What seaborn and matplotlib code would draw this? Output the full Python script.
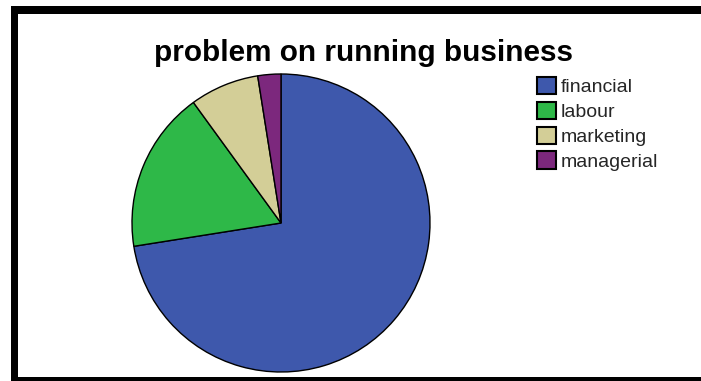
import matplotlib
matplotlib.use("Agg")
import matplotlib.pyplot as plt
import seaborn as sns
from matplotlib.patches import Rectangle

# data (counts)
categories = ["financial", "labour", "marketing", "managerial"]
counts = [29, 7, 3, 1]
colors = ["#3e58ac", "#2eb848", "#d3ce97", "#7c287d"]
title = "problem on running business"

sns.set_style("white")
plt.rcParams["font.family"] = ["Liberation Sans", "DejaVu Sans"]

W, H = 701, 381
fig = plt.figure(figsize=(W / 100, H / 100), dpi=100)
fig.patch.set_facecolor("white")

# black frame (open at the right edge)
fig.add_artist(Rectangle((11 / W, 0), 1, (H - 6) / H, transform=fig.transFigure,
                         facecolor="black", edgecolor="none", zorder=-2))
fig.add_artist(Rectangle((18 / W, 4 / H), 1, (377 - 14) / H, transform=fig.transFigure,
                         facecolor="white", edgecolor="none", zorder=-1))

# pie: centre (281, 223) px, radius 149 px
cx, cy, r = 281, 223, 149
ax = fig.add_axes([(cx - r) / W, (H - cy - r) / H, 2 * r / W, 2 * r / H])
wedges, _ = ax.pie(counts, colors=colors, startangle=90, counterclock=False,
                   wedgeprops=dict(edgecolor="black", linewidth=1.0, clip_on=False))
ax.set_xlim(-1, 1)
ax.set_ylim(-1, 1)
ax.set_aspect("equal")
ax.axis("off")

fig.text(363 / W, 1 - 61 / H, title, ha="center", va="baseline",
         fontsize=21.4, fontweight="bold", color="black")

leg = fig.legend(wedges, categories, loc="upper left",
                 bbox_to_anchor=(537 / W, 1 - 77 / H), bbox_transform=fig.transFigure,
                 frameon=False, fontsize=14, borderpad=0, borderaxespad=0,
                 handlelength=1.0, handleheight=1.0, handletextpad=0.2,
                 labelspacing=0.28)
for h in leg.legend_handles:
    h.set_linewidth(1.5)

fig.savefig("out.png", dpi=100, facecolor="white")
